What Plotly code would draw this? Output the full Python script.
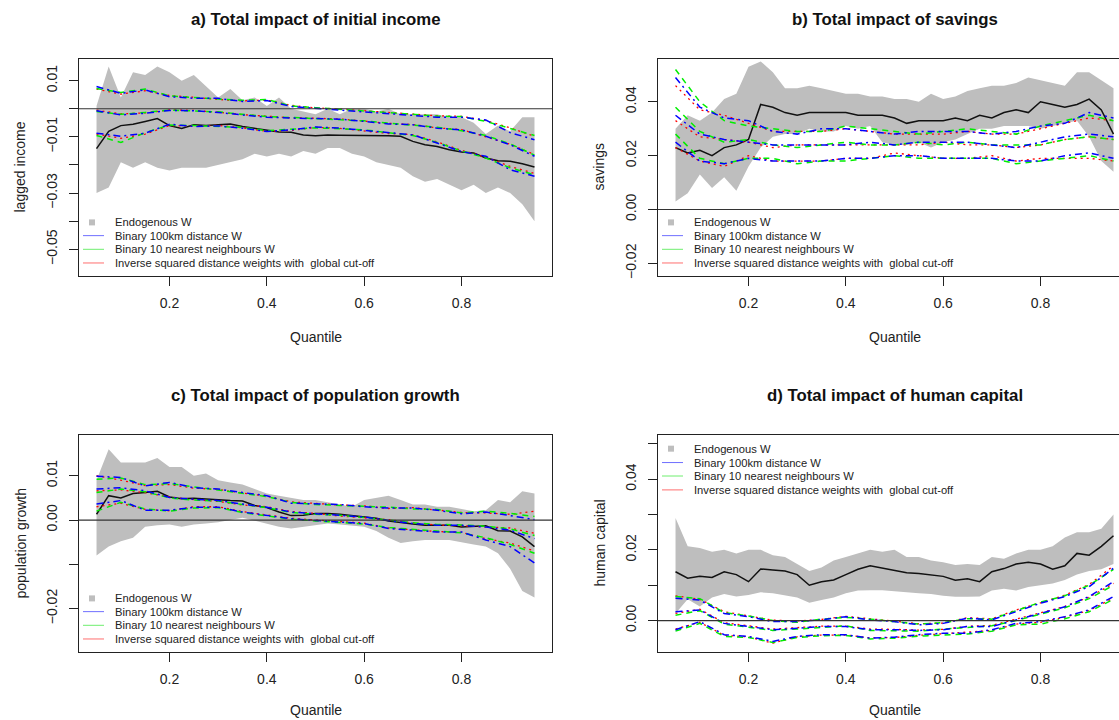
import plotly.graph_objects as go

# ---------------- data ----------------
q_fine = [0.05, 0.075, 0.10, 0.125, 0.15, 0.175, 0.20, 0.225, 0.25, 0.275, 0.30, 0.325,
          0.35, 0.375, 0.40, 0.425, 0.45, 0.475, 0.50, 0.525, 0.55, 0.575, 0.60, 0.625,
          0.65, 0.675, 0.70, 0.725, 0.75, 0.775, 0.80, 0.825, 0.85, 0.875, 0.90, 0.925, 0.95]
q_coarse = [0.05, 0.10, 0.15, 0.20, 0.25, 0.30, 0.35, 0.40, 0.45, 0.50, 0.55, 0.60,
            0.65, 0.70, 0.75, 0.80, 0.85, 0.90, 0.95]

x_ticks = [0.2, 0.4, 0.6, 0.8]
x_ticktext = ["0.2", "0.4", "0.6", "0.8"]

legend_labels = ["Endogenous W", "Binary 100km distance W", "Binary 10 nearest neighbours W",
                 "Inverse squared distance weights with\u00a0 global cut-off"]

# a) initial income
a_up = [0.001, 0.015, 0.004, 0.013, 0.012, 0.015, 0.013, 0.010, 0.012, 0.008, 0.004, 0.007, 0.003,
        0.004, 0.001, 0.004, 0.000, -0.001, -0.002, 0.000, -0.002, 0.000, 0.000, -0.001, 0.000,
        -0.002, -0.002, -0.002, -0.002, -0.003, -0.003, -0.005, -0.009, -0.006, -0.008, -0.003, -0.003]
a_lo = [-0.030, -0.028, -0.019, -0.021, -0.019, -0.021, -0.022, -0.021, -0.021, -0.021, -0.020, -0.019,
        -0.018, -0.016, -0.017, -0.016, -0.017, -0.015, -0.016, -0.014, -0.014, -0.016, -0.017, -0.019,
        -0.020, -0.021, -0.024, -0.026, -0.025, -0.027, -0.029, -0.027, -0.030, -0.028, -0.030, -0.034, -0.040]
a_black = [-0.0142, -0.0080, -0.0060, -0.0055, -0.0045, -0.0035, -0.0060, -0.0070, -0.0057, -0.0060,
           -0.0057, -0.0054, -0.0063, -0.0069, -0.0077, -0.0083, -0.0084, -0.0093, -0.0096, -0.0093,
           -0.0094, -0.0094, -0.0095, -0.0096, -0.0096, -0.0098, -0.0116, -0.0128, -0.0134, -0.0146,
           -0.0154, -0.0157, -0.0175, -0.0185, -0.0187, -0.0196, -0.0207]
a_blue_hi = [0.0079, 0.0055, 0.0067, 0.0043, 0.0037, 0.0037, 0.0026, 0.0029, 0.0008, 0.0002, -0.0004,
             -0.0010, -0.0016, -0.0022, -0.0030, -0.0030, -0.0040, -0.0085, -0.0110]
a_green_hi = [0.0072, 0.0058, 0.0070, 0.0046, 0.0040, 0.0036, 0.0030, 0.0033, 0.0010, 0.0004, -0.0002,
              -0.0008, -0.0012, -0.0020, -0.0026, -0.0028, -0.0045, -0.0070, -0.0095]
a_red_hi = [0.0070, 0.0052, 0.0064, 0.0047, 0.0041, 0.0033, 0.0028, 0.0031, 0.0012, 0.0003, -0.0001,
            -0.0007, -0.0014, -0.0019, -0.0025, -0.0027, -0.0042, -0.0068, -0.0098]
a_blue_mid = [-0.0007, -0.0022, -0.0016, -0.0006, -0.0007, -0.0013, -0.0022, -0.0030, -0.0033, -0.0036,
              -0.0037, -0.0045, -0.0054, -0.0057, -0.0069, -0.0075, -0.0098, -0.0128, -0.0169]
a_green_mid = [-0.0010, -0.0020, -0.0013, -0.0005, -0.0008, -0.0011, -0.0020, -0.0028, -0.0031, -0.0035,
               -0.0038, -0.0043, -0.0051, -0.0058, -0.0066, -0.0078, -0.0095, -0.0125, -0.0165]
a_red_mid = [-0.0005, -0.0018, -0.0015, -0.0004, -0.0006, -0.0012, -0.0021, -0.0027, -0.0032, -0.0034,
             -0.0036, -0.0044, -0.0052, -0.0056, -0.0068, -0.0074, -0.0100, -0.0126, -0.0163]
a_blue_lo = [-0.0087, -0.0098, -0.0087, -0.0055, -0.0063, -0.0061, -0.0069, -0.0081, -0.0075, -0.0065,
             -0.0069, -0.0077, -0.0087, -0.0093, -0.0122, -0.0152, -0.0169, -0.0217, -0.0240]
a_green_lo = [-0.0095, -0.0120, -0.0085, -0.0058, -0.0060, -0.0063, -0.0066, -0.0078, -0.0072, -0.0068,
              -0.0071, -0.0075, -0.0085, -0.0095, -0.0120, -0.0150, -0.0175, -0.0210, -0.0235]
a_red_lo = [-0.0090, -0.0105, -0.0090, -0.0060, -0.0062, -0.0059, -0.0068, -0.0080, -0.0077, -0.0066,
            -0.0070, -0.0078, -0.0088, -0.0092, -0.0118, -0.0148, -0.0172, -0.0205, -0.0230]

# b) savings
b_up = [0.030, 0.035, 0.033, 0.036, 0.041, 0.043, 0.053, 0.055, 0.051, 0.045, 0.045, 0.046, 0.045,
        0.044, 0.043, 0.043, 0.042, 0.042, 0.041, 0.041, 0.040, 0.043, 0.041, 0.042, 0.044, 0.045,
        0.046, 0.046, 0.047, 0.049, 0.048, 0.047, 0.046, 0.051, 0.051, 0.048, 0.045]
b_lo = [0.003, 0.006, 0.013, 0.008, 0.012, 0.007, 0.016, 0.023, 0.027, 0.028, 0.028, 0.030, 0.029,
        0.029, 0.031, 0.030, 0.031, 0.025, 0.024, 0.024, 0.025, 0.023, 0.025, 0.026, 0.028, 0.030,
        0.030, 0.031, 0.031, 0.031, 0.030, 0.031, 0.032, 0.033, 0.027, 0.018, 0.014]
b_black = [0.023, 0.021, 0.022, 0.020, 0.023, 0.024, 0.026, 0.039, 0.038, 0.036, 0.035, 0.036, 0.036,
           0.036, 0.036, 0.035, 0.035, 0.035, 0.034, 0.032, 0.033, 0.033, 0.033, 0.034, 0.033, 0.035,
           0.034, 0.036, 0.037, 0.036, 0.040, 0.039, 0.038, 0.039, 0.041, 0.037, 0.028]
b_blue_hi = [0.049, 0.038, 0.034, 0.033, 0.029, 0.028, 0.030, 0.030, 0.029, 0.028, 0.029, 0.029,
             0.029, 0.028, 0.029, 0.031, 0.032, 0.036, 0.034]
b_green_hi = [0.052, 0.040, 0.033, 0.031, 0.030, 0.029, 0.029, 0.031, 0.030, 0.029, 0.028, 0.029,
              0.030, 0.029, 0.028, 0.031, 0.033, 0.035, 0.033]
b_red_hi = [0.046, 0.037, 0.035, 0.032, 0.029, 0.029, 0.029, 0.030, 0.029, 0.028, 0.028, 0.028,
            0.029, 0.028, 0.028, 0.030, 0.032, 0.034, 0.033]
b_blue_mid = [0.035, 0.028, 0.026, 0.025, 0.024, 0.024, 0.024, 0.024, 0.025, 0.024, 0.025, 0.025,
              0.025, 0.024, 0.023, 0.025, 0.027, 0.028, 0.027]
b_green_mid = [0.038, 0.029, 0.025, 0.026, 0.024, 0.023, 0.024, 0.025, 0.024, 0.024, 0.025, 0.024,
               0.025, 0.024, 0.024, 0.024, 0.026, 0.027, 0.026]
b_red_mid = [0.033, 0.027, 0.026, 0.025, 0.023, 0.024, 0.024, 0.024, 0.024, 0.024, 0.024, 0.025,
             0.024, 0.024, 0.023, 0.024, 0.026, 0.027, 0.026]
b_blue_lo = [0.025, 0.018, 0.017, 0.019, 0.018, 0.018, 0.018, 0.019, 0.019, 0.020, 0.020, 0.019,
             0.019, 0.019, 0.018, 0.018, 0.020, 0.021, 0.019]
b_green_lo = [0.028, 0.019, 0.017, 0.019, 0.019, 0.017, 0.018, 0.018, 0.019, 0.020, 0.019, 0.019,
              0.019, 0.019, 0.017, 0.018, 0.019, 0.020, 0.018]
b_red_lo = [0.023, 0.018, 0.016, 0.020, 0.018, 0.018, 0.018, 0.019, 0.019, 0.021, 0.020, 0.019,
            0.019, 0.020, 0.018, 0.019, 0.019, 0.019, 0.018]

# c) population growth
c_up = [0.009, 0.016, 0.013, 0.013, 0.013, 0.014, 0.012, 0.012, 0.010, 0.0105, 0.009, 0.0085, 0.008,
        0.007, 0.006, 0.0055, 0.005, 0.0045, 0.0045, 0.004, 0.0035, 0.003, 0.0045, 0.005, 0.0055,
        0.0045, 0.0035, 0.0035, 0.003, 0.003, 0.0025, 0.002, 0.0022, 0.0045, 0.004, 0.0065, 0.006]
c_lo = [-0.008, -0.006, -0.0048, -0.004, -0.0015, -0.0012, -0.001, -0.0015, -0.001, -0.0008, -0.0005,
        0.0, 0.0005, -0.0001, -0.0008, -0.0015, -0.0019, -0.0015, -0.0012, -0.0008, -0.001, -0.0012,
        -0.0015, -0.0025, -0.004, -0.0052, -0.0048, -0.0045, -0.0045, -0.0045, -0.005, -0.0055, -0.006,
        -0.0075, -0.011, -0.016, -0.0175]
c_black = [0.0013, 0.0055, 0.005, 0.006, 0.0062, 0.0065, 0.0052, 0.0048, 0.0049, 0.0047, 0.0045, 0.0044,
           0.0043, 0.0033, 0.0028, 0.0018, 0.001, 0.0011, 0.0015, 0.0015, 0.0013, 0.001, 0.0007, 0.0004,
           -0.0002, -0.0006, -0.0009, -0.0012, -0.0012, -0.0012, -0.0016, -0.0015, -0.0013, -0.0024,
           -0.0025, -0.0038, -0.006]
c_blue_hi = [0.0099, 0.0096, 0.0077, 0.0085, 0.0073, 0.0070, 0.0062, 0.0055, 0.0038, 0.0036, 0.0035,
             0.0030, 0.0027, 0.0027, 0.0022, 0.0014, 0.0018, 0.0010, 0.0001]
c_green_hi = [0.0092, 0.0095, 0.0080, 0.0082, 0.0075, 0.0068, 0.0060, 0.0053, 0.0040, 0.0035, 0.0033,
              0.0031, 0.0029, 0.0025, 0.0024, 0.0016, 0.0020, 0.0015, 0.0008]
c_red_hi = [0.0100, 0.0090, 0.0078, 0.0080, 0.0072, 0.0069, 0.0061, 0.0054, 0.0041, 0.0037, 0.0034,
            0.0032, 0.0026, 0.0028, 0.0023, 0.0017, 0.0016, 0.0013, 0.0020]
c_blue_mid = [0.0070, 0.0073, 0.0066, 0.0051, 0.0047, 0.0044, 0.0036, 0.0029, 0.0018, 0.0014, 0.0010,
              0.0007, -0.0001, -0.0008, -0.0012, -0.0012, -0.0016, -0.0023, -0.0042]
c_green_mid = [0.0062, 0.0070, 0.0064, 0.0050, 0.0045, 0.0043, 0.0035, 0.0028, 0.0017, 0.0013, 0.0011,
               0.0006, 0.0000, -0.0006, -0.0010, -0.0011, -0.0014, -0.0020, -0.0035]
c_red_mid = [0.0066, 0.0068, 0.0062, 0.0052, 0.0046, 0.0042, 0.0034, 0.0030, 0.0019, 0.0015, 0.0009,
             0.0005, 0.0001, -0.0007, -0.0011, -0.0013, -0.0015, -0.0018, -0.0030]
c_blue_lo = [0.0036, 0.0044, 0.0022, 0.0022, 0.0029, 0.0029, 0.0018, 0.0010, 0.0003, -0.0001, -0.0004,
             -0.0008, -0.0019, -0.0023, -0.0027, -0.0027, -0.0045, -0.0060, -0.0097]
c_green_lo = [0.0020, 0.0040, 0.0025, 0.0020, 0.0027, 0.0028, 0.0017, 0.0009, 0.0002, -0.0002, -0.0005,
              -0.0009, -0.0017, -0.0021, -0.0025, -0.0029, -0.0040, -0.0055, -0.0075]
c_red_lo = [0.0030, 0.0038, 0.0024, 0.0021, 0.0030, 0.0030, 0.0019, 0.0011, 0.0004, 0.0000, -0.0003,
            -0.0007, -0.0018, -0.0022, -0.0026, -0.0028, -0.0042, -0.0052, -0.0070]

# d) human capital
d_up = [0.029, 0.021, 0.0205, 0.0195, 0.020, 0.019, 0.020, 0.020, 0.0185, 0.018, 0.016, 0.014, 0.015,
        0.017, 0.018, 0.019, 0.020, 0.0195, 0.020, 0.018, 0.018, 0.017, 0.0165, 0.0157, 0.016, 0.0157,
        0.018, 0.0175, 0.019, 0.020, 0.020, 0.021, 0.0235, 0.025, 0.025, 0.026, 0.030]
d_lo = [0.002, 0.006, 0.004, 0.0065, 0.0075, 0.0068, 0.0072, 0.008, 0.0077, 0.0072, 0.0065, 0.005,
        0.0058, 0.0065, 0.0077, 0.0085, 0.0086, 0.0086, 0.0085, 0.008, 0.0077, 0.0075, 0.007, 0.0067,
        0.0067, 0.0068, 0.0085, 0.009, 0.0085, 0.0095, 0.010, 0.0105, 0.0115, 0.013, 0.014, 0.0145, 0.016]
d_black = [0.0138, 0.012, 0.0125, 0.0122, 0.0138, 0.013, 0.011, 0.0146, 0.0143, 0.014, 0.013, 0.010,
           0.011, 0.0115, 0.013, 0.0145, 0.0155, 0.0148, 0.014, 0.0135, 0.0133, 0.013, 0.0125, 0.0114,
           0.0118, 0.011, 0.0138, 0.0147, 0.016, 0.0165, 0.016, 0.0145, 0.0155, 0.019, 0.0185, 0.021, 0.024]
d_blue_hi = [0.0063, 0.0058, 0.0020, 0.0011, -0.0003, -0.0003, 0.0002, 0.0011, 0.0002, -0.0003, -0.0012,
             -0.0008, 0.0007, 0.0002, 0.0025, 0.0049, 0.0068, 0.0096, 0.0148]
d_green_hi = [0.0068, 0.0062, 0.0022, 0.0013, 0.0000, -0.0005, 0.0004, 0.0009, 0.0004, -0.0002, -0.0010,
              -0.0006, 0.0005, 0.0004, 0.0028, 0.0052, 0.0070, 0.0100, 0.0145]
d_red_hi = [0.0070, 0.0060, 0.0025, 0.0014, 0.0001, -0.0001, 0.0003, 0.0012, 0.0005, -0.0001, -0.0009,
            -0.0007, 0.0008, 0.0005, 0.0030, 0.0050, 0.0072, 0.0102, 0.0155]
d_blue_mid = [0.0025, 0.0030, -0.0008, -0.0017, -0.0026, -0.0022, -0.0017, -0.0017, -0.0026, -0.0026,
              -0.0028, -0.0026, -0.0017, -0.0017, 0.0002, 0.0021, 0.0039, 0.0068, 0.0110]
d_green_mid = [0.0015, 0.0028, -0.0010, -0.0019, -0.0028, -0.0024, -0.0019, -0.0015, -0.0028, -0.0028,
               -0.0030, -0.0024, -0.0019, -0.0015, 0.0000, 0.0018, 0.0036, 0.0062, 0.0100]
d_red_mid = [0.0020, 0.0032, -0.0006, -0.0015, -0.0024, -0.0020, -0.0016, -0.0016, -0.0024, -0.0025,
             -0.0027, -0.0025, -0.0016, -0.0014, 0.0004, 0.0022, 0.0040, 0.0066, 0.0105]
d_blue_lo = [-0.0026, -0.0003, -0.0040, -0.0045, -0.0059, -0.0045, -0.0040, -0.0040, -0.0050, -0.0047,
             -0.0040, -0.0036, -0.0036, -0.0026, -0.0008, -0.0003, 0.0011, 0.0030, 0.0068]
d_green_lo = [-0.0030, -0.0008, -0.0045, -0.0048, -0.0062, -0.0048, -0.0043, -0.0042, -0.0052, -0.0050,
              -0.0044, -0.0040, -0.0038, -0.0030, -0.0012, -0.0010, 0.0005, 0.0025, 0.0060]
d_red_lo = [-0.0024, -0.0005, -0.0042, -0.0046, -0.0064, -0.0046, -0.0041, -0.0041, -0.0049, -0.0048,
            -0.0042, -0.0037, -0.0034, -0.0028, -0.0010, -0.0005, 0.0010, 0.0028, 0.0064]

# ---------------- layout ----------------
W, H = 1119, 720
FONT = "Liberation Sans, Arial, Helvetica, sans-serif"
INK = "#222222"
BAND = "#BEBEBE"
COLS = {"blue": "#0000FF", "green": "#00EE00", "red": "#FF0000"}
LEG_COLS = {"blue": "#6F6FFF", "green": "#6FEE6F", "red": "#FF6F6F"}
DASH = {"blue": "7px,4px,2px,4px", "green": "6px,5px", "red": "2px,4px"}
WID = {"blue": 1.5, "green": 1.5, "red": 1.3}

# plot boxes in pixels: (left, right) and (top, bottom); right column is cut by the page edge
COL_X = [(79, 552), (658, 1131)]
ROW_Y = [(59, 276), (435, 652)]
X_RANGE_FULL = (0.014, 0.986)

panels = [
    dict(title="a) Total impact of initial income", ylabel="lagged income", col=0, row=0,
         up=a_up, lo=a_lo, black=a_black,
         blue=[a_blue_hi, a_blue_mid, a_blue_lo], green=[a_green_hi, a_green_mid, a_green_lo],
         red=[a_red_hi, a_red_mid, a_red_lo],
         yrange=[-0.0595, 0.0177], tickvals=[-0.05, -0.04, -0.03, -0.02, -0.01, 0.0, 0.01],
         ticktext=["\u22120.05", "", "\u22120.03", "", "\u22120.01", "", "0.01"], legend="bottom"),
    dict(title="b) Total impact of savings", ylabel="savings", col=1, row=0,
         up=b_up, lo=b_lo, black=b_black,
         blue=[b_blue_hi, b_blue_mid, b_blue_lo], green=[b_green_hi, b_green_mid, b_green_lo],
         red=[b_red_hi, b_red_mid, b_red_lo],
         yrange=[-0.0247, 0.0559], tickvals=[-0.02, 0.0, 0.02, 0.04],
         ticktext=["\u22120.02", "0.00", "0.02", "0.04"], legend="bottom"),
    dict(title="c) Total impact of population growth", ylabel="population growth", col=0, row=1,
         up=c_up, lo=c_lo, black=c_black,
         blue=[c_blue_hi, c_blue_mid, c_blue_lo], green=[c_green_hi, c_green_mid, c_green_lo],
         red=[c_red_hi, c_red_mid, c_red_lo],
         yrange=[-0.0298, 0.0192], tickvals=[-0.02, -0.01, 0.0, 0.01],
         ticktext=["\u22120.02", "", "0.00", "0.01"], legend="bottom"),
    dict(title="d) Total impact of human capital", ylabel="human capital", col=1, row=1,
         up=d_up, lo=d_lo, black=d_black,
         blue=[d_blue_hi, d_blue_mid, d_blue_lo], green=[d_green_hi, d_green_mid, d_green_lo],
         red=[d_red_hi, d_red_mid, d_red_lo],
         yrange=[-0.0089, 0.0525], tickvals=[0.0, 0.01, 0.02, 0.03, 0.04, 0.05],
         ticktext=["0.00", "", "0.02", "", "0.04", ""], legend="top"),
]

fig = go.Figure()
layout = dict(width=W, height=H, margin=dict(l=0, r=0, t=0, b=0), showlegend=False,
              paper_bgcolor="white", plot_bgcolor="white", template="none",
              font=dict(family=FONT, size=14, color=INK))
shapes, annotations = [], []

for i, p in enumerate(panels):
    n = "" if i == 0 else str(i + 1)
    xa, ya = "x" + n, "y" + n
    L, R = COL_X[p["col"]]
    T, B = ROW_Y[p["row"]]
    box_w = R - L
    vis_R = min(R, W)
    px_per_unit = box_w / (X_RANGE_FULL[1] - X_RANGE_FULL[0])
    x_hi = X_RANGE_FULL[0] + (vis_R - L) / px_per_unit
    clipped = R > W

    layout["xaxis" + n] = dict(
        domain=[L / W, vis_R / W], range=[X_RANGE_FULL[0], x_hi], anchor=ya,
        tickvals=x_ticks, ticktext=x_ticktext, ticks="outside", ticklen=9, tickwidth=1,
        tickcolor=INK, showline=True, linecolor=INK, linewidth=1, mirror=True,
        showgrid=False, zeroline=False, automargin=False, ticklabelstandoff=5,
        tickfont=dict(family=FONT, size=14, color=INK))
    layout["yaxis" + n] = dict(
        domain=[1 - B / H, 1 - T / H], range=p["yrange"], anchor=xa,
        tickvals=p["tickvals"], ticktext=p["ticktext"], tickangle=-90,
        ticks="outside", ticklen=9, tickwidth=1, tickcolor=INK,
        showline=True, linecolor=INK, linewidth=1, mirror=not clipped,
        showgrid=False, zeroline=False, automargin=False, ticklabelstandoff=6,
        tickfont=dict(family=FONT, size=14, color=INK))

    # confidence band of the endogenous-W model
    fig.add_trace(go.Scatter(x=q_fine + q_fine[::-1], y=p["up"] + p["lo"][::-1],
                             fill="toself", fillcolor=BAND, line=dict(width=0),
                             mode="lines", hoverinfo="skip", xaxis=xa, yaxis=ya))
    # point estimate
    fig.add_trace(go.Scatter(x=q_fine, y=p["black"], mode="lines",
                             line=dict(color="#111111", width=1.5), xaxis=xa, yaxis=ya))
    # alternative W matrices
    for key in ["red", "green", "blue"]:
        for series in p[key]:
            fig.add_trace(go.Scatter(x=q_coarse, y=series, mode="lines",
                                     line=dict(color=COLS[key], width=WID[key], dash=DASH[key]),
                                     xaxis=xa, yaxis=ya))

    # zero reference line
    shapes.append(dict(type="line", xref=xa + " domain", yref=ya, x0=0, x1=1, y0=0, y1=0,
                       line=dict(color="#333333", width=1.2), layer="above"))

    # title and axis titles
    cx = (L + R) / 2
    annotations.append(dict(text="<b>" + p["title"] + "</b>", xref="paper", yref="paper",
                            x=cx / W, y=1 - (T - 40) / H, showarrow=False,
                            font=dict(family=FONT, size=16.8, color="#111111"),
                            xanchor="center", yanchor="middle"))
    qy = min(B + 61, H - 10)
    annotations.append(dict(text="Quantile", xref="paper", yref="paper",
                            x=cx / W, y=1 - qy / H, showarrow=False,
                            font=dict(family=FONT, size=14, color=INK),
                            xanchor="center", yanchor="middle"))
    annotations.append(dict(text=p["ylabel"], xref="paper", yref="paper",
                            x=(L - 59) / W, y=1 - (T + B) / 2 / H, showarrow=False, textangle=-90,
                            font=dict(family=FONT, size=14, color=INK),
                            xanchor="center", yanchor="middle"))

    # legend (drawn by hand, R style, no box)
    vis_w = vis_R - L
    if p["legend"] == "bottom":
        rows = [0.247, 0.186, 0.123, 0.060]
    else:
        rows = [0.937, 0.873, 0.811, 0.747]
    fx = lambda px: px / vis_w
    for k, (lab, yy) in enumerate(zip(legend_labels, rows)):
        annotations.append(dict(text=lab, xref=xa + " domain", yref=ya + " domain",
                                x=fx(34), y=yy, showarrow=False, xanchor="left", yanchor="middle",
                                font=dict(family=FONT, size=11.2, color=INK)))
        if k == 0:
            shapes.append(dict(type="rect", xref=xa + " domain", yref=ya + " domain",
                               xsizemode="pixel", ysizemode="pixel", xanchor=fx(13), yanchor=yy,
                               x0=-3, x1=3, y0=-3, y1=3, fillcolor=BAND, line=dict(width=0)))
        else:
            c = LEG_COLS[["blue", "green", "red"][k - 1]]
            shapes.append(dict(type="line", xref=xa + " domain", yref=ya + " domain",
                               x0=fx(4), x1=fx(25), y0=yy, y1=yy, line=dict(color=c, width=1)))

layout["shapes"] = shapes
layout["annotations"] = annotations
fig.update_layout(**layout)
fig.write_html("out.html", config={"displayModeBar": False},
               post_script="document.body.style.margin='0px';document.body.style.overflow='hidden';")
